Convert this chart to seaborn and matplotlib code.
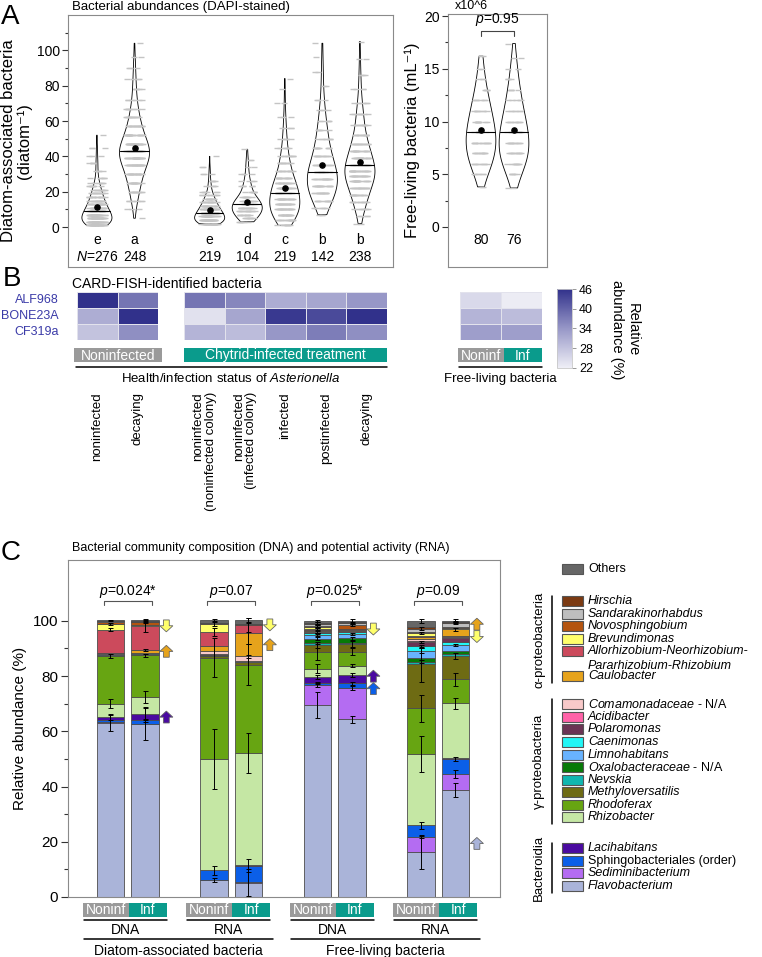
"""Bacterial abundances, CARD-FISH heatmaps and community composition (3-panel figure)."""

import matplotlib

matplotlib.use("Agg")

import matplotlib.pyplot as plt  # noqa: E402
import numpy as np  # noqa: E402
import pandas as pd  # noqa: E402
import seaborn as sns  # noqa: E402
from matplotlib.collections import PolyCollection  # noqa: E402
from matplotlib.colors import LinearSegmentedColormap  # noqa: E402
from matplotlib.patches import FancyArrow, Rectangle  # noqa: E402

# ---------------------------------------------------------------- Panel A data
# diatom-associated bacteria per diatom: binned values and counts
diatom_letters = ["e", "a", "e", "d", "c", "b", "b"]
diatom_n = ["$N$=276", "248", "219", "104", "219", "142", "238"]
diatom_values = [
    [1, 3, 5, 7, 9, 11, 13, 15, 17, 19, 21, 23, 25, 28, 32, 36, 40, 45, 52],
    [5, 10, 15, 20, 25, 30, 35, 39, 43, 47, 52, 57, 62, 67, 72, 78, 84, 90, 96, 104],
    [2, 4, 6, 8, 10, 12, 14, 16, 18, 20, 23, 26, 30, 34, 40],
    [3, 5, 7, 9, 11, 13, 15, 17, 20, 23, 26, 30, 34, 38, 44],
    [1, 4, 7, 10, 13, 16, 19, 22, 25, 28, 32, 36, 40, 45, 50, 56, 62, 70, 78, 84],
    [7, 11, 15, 19, 23, 27, 31, 35, 40, 45, 50, 55, 60, 66, 72, 80, 88, 96, 104],
    [2, 6, 10, 14, 18, 22, 26, 29, 32, 35, 39, 43, 47, 52, 58, 64, 70, 78, 86, 95, 105],
]
diatom_counts = [
    [30, 35, 33, 30, 25, 22, 18, 15, 13, 11, 9, 7, 6, 5, 4, 4, 3, 3, 1],
    [1, 3, 7, 11, 15, 19, 24, 28, 32, 28, 22, 16, 12, 8, 6, 5, 4, 3, 2, 1],
    [30, 35, 32, 27, 22, 18, 14, 11, 8, 6, 5, 4, 3, 2, 1],
    [6, 8, 10, 12, 14, 12, 10, 8, 6, 5, 4, 3, 2, 2, 1],
    [8, 14, 18, 20, 20, 20, 18, 17, 15, 13, 11, 9, 8, 6, 5, 4, 3, 2, 1, 1],
    [3, 6, 10, 13, 15, 16, 15, 13, 11, 9, 7, 6, 5, 4, 3, 2, 2, 1, 1],
    [2, 4, 7, 10, 13, 16, 18, 19, 20, 20, 18, 16, 14, 12, 10, 8, 6, 4, 3, 2, 1],
]

# free-living bacteria (x10^6 per mL)
free_n = ["80", "76"]
free_values = [
    [3.8, 5, 6, 7, 8, 9, 10, 11, 12, 13, 14, 15, 16.2],
    [3.7, 5, 6, 7, 8, 9, 10, 11, 12, 13, 14, 15, 16, 17.4],
]
free_counts = [
    [2, 5, 8, 10, 11, 10, 9, 7, 6, 4, 3, 2, 2],
    [2, 5, 8, 10, 10, 9, 8, 6, 5, 4, 3, 2, 2, 1],
]

# ---------------------------------------------------------------- Panel B data
probes = ["ALF968", "BONE23A", "CF319a"]
fish_noninfected = [[46, 38], [31, 46], [28, 35]]
fish_chytrid = [
    [38, 36, 31, 32, 34],
    [24, 32, 45, 43, 46],
    [30, 29, 34, 37, 35],
]
fish_free = [[25, 22.5], [30, 29], [33, 33]]
fish_col_labels = [
    "noninfected", "decaying",
    "noninfected\n(noninfected colony)", "noninfected\n(infected colony)",
    "infected", "postinfected", "decaying",
]

# ---------------------------------------------------------------- Panel C data
# stacking order, bottom -> top
taxa = [
    "Flavobacterium", "Sediminibacterium", "Sphingobacteriales (order)", "Lacihabitans",
    "Rhizobacter", "Rhodoferax", "Methyloversatilis", "Nevskia", "Oxalobacteraceae - N/A",
    "Limnohabitans", "Caenimonas", "Polaromonas", "Acidibacter", "Comamonadaceae - N/A",
    "Caulobacter", "Allorhizobium-Neorhizobium-\nPararhizobium-Rhizobium", "Brevundimonas",
    "Novosphingobium", "Sandarakinorhabdus", "Hirschia", "Others",
]
taxon_groups = (["Bacteroidia"] * 4 + ["γ-proteobacteria"] * 10
                + ["α-proteobacteria"] * 6 + [""])
taxon_colors = [
    "#aab4d9", "#b46cf2", "#0b5fe8", "#4a0aa0",
    "#c5e7a4", "#67a512", "#6e6b13", "#10b6b0", "#077a07",
    "#68b3ff", "#22f5f5", "#6b3454", "#ff62a8", "#f8c9c9",
    "#e6a31c", "#cc4a5c", "#ffff6b",
    "#b4540f", "#bebebe", "#7b3a12", "#666666",
]

bar_names = ["Noninf", "Inf"] * 4
dna_diatom_noninf = [63.0, 0.2, 0.7, 1.3, 4.8, 17.3, 0.2, 0.1, 0.1, 0.1, 0.1,
                     0.1, 0.1, 0.1, 0.3, 8.3, 2.0, 0.8, 0.2, 0.2, 0.1]
dna_diatom_inf = [62.7, 0.1, 1.2, 2.3, 6.2, 15.0, 0.3, 0.1, 0.1, 0.1, 0.1,
                  0.1, 0.1, 0.1, 0.9, 8.6, 0.3, 1.3, 0.1, 0.2, 0.2]
rna_diatom_noninf = [6.0, 0.1, 3.5, 0.1, 40.3, 36.6, 0.7, 0.1, 0.1, 0.1, 0.1,
                     0.1, 0.1, 1.3, 1.5, 5.3, 3.0, 0.1, 0.1, 0.1, 0.8]
rna_diatom_inf = [5.2, 0.1, 6.1, 0.1, 40.6, 32.0, 0.9, 0.1, 0.1, 0.1, 0.1,
                  0.1, 0.1, 1.5, 8.5, 2.8, 0.2, 0.1, 0.1, 0.1, 1.2]
dna_free_noninf = [69.5, 7.2, 0.9, 2.0, 3.1, 6.0, 2.6, 0.5, 1.7, 1.5, 0.4,
                   0.5, 0.2, 0.2, 0.2, 0.6, 0.5, 0.4, 0.7, 0.4, 0.9]
dna_free_inf = [64.3, 11.5, 1.5, 3.1, 3.3, 5.1, 2.8, 0.4, 1.7, 1.6, 0.5,
                0.3, 0.1, 0.2, 0.2, 0.3, 0.2, 1.4, 0.6, 0.4, 0.5]
rna_free_noninf = [16.3, 5.4, 4.2, 0.3, 25.5, 16.6, 16.0, 0.9, 1.2, 2.8, 1.6,
                   1.5, 0.4, 0.8, 0.6, 0.4, 1.2, 0.3, 1.2, 0.4, 2.4]
rna_free_inf = [38.8, 5.7, 5.5, 0.2, 19.9, 8.7, 8.5, 0.6, 1.1, 2.2, 1.2,
                1.2, 0.4, 0.6, 2.3, 0.3, 0.2, 0.3, 1.5, 0.5, 0.3]

# standard deviations drawn at the top of each segment (0 = no error bar)
err_dna_diatom_noninf = [3.0, 0, 0, 1.0, 1.5, 0.7, 0, 0, 0, 0, 0, 0, 0, 0, 0, 0.6, 0.5, 0, 0, 0, 0.3]
err_dna_diatom_inf = [6.0, 0, 0.5, 2.3, 2.2, 0.6, 0, 0, 0, 0, 0, 0, 0, 0, 0.5, 2.0, 0, 0.5, 0, 0, 0.4]
err_rna_diatom_noninf = [0.7, 0, 1.8, 0, 11.0, 7.0, 0, 0, 0, 0, 0, 0, 0, 0, 0, 1.5, 0.8, 0, 0, 0, 0.5]
err_rna_diatom_inf = [4.8, 0, 2.5, 0, 7.2, 7.5, 0, 0, 0, 0, 0, 0, 0, 0.5, 4.0, 2.5, 0, 0, 0, 0, 0.8]
err_dna_free_noninf = [4.6, 0.5, 0.3, 0.7, 1.5, 2.8, 1.0, 0, 0.5, 0.5, 0.3, 0.3, 0, 0, 0, 0.3, 0.3, 0.3, 0.3, 0.3, 0.4]
err_dna_free_inf = [1.2, 0.7, 0.5, 0.7, 0.5, 1.2, 1.0, 0, 0.5, 0.4, 0, 0, 0, 0, 0, 0, 0, 0.5, 0.4, 0, 0.8]
err_rna_free_noninf = [6.0, 0.5, 1.4, 0, 6.5, 5.0, 6.3, 0.5, 0, 0.8, 0.5, 0.5, 0, 0, 0, 0, 0.4, 0, 0.4, 0, 0.8]
err_rna_free_inf = [2.5, 1.3, 0.8, 0, 2.1, 2.3, 1.0, 0, 0, 0.5, 0, 0, 0, 0, 0.5, 0, 0, 0, 0.5, 0.3, 0.8]

p_values = ["$p$=0.024*", "$p$=0.07", "$p$=0.025*", "$p$=0.09"]
assay_labels = ["DNA", "RNA", "DNA", "RNA"]
fraction_labels = ["Diatom-associated bacteria", "Free-living bacteria"]

# arrows beside the infected bars (bar index, taxon, direction), listed top -> bottom
arrow_bar = [1, 1, 1, 3, 3, 5, 5, 5, 7, 7, 7]
arrow_taxon = ["Brevundimonas", "Caulobacter", "Lacihabitans",
               "Brevundimonas", "Caulobacter",
               "Brevundimonas", "Lacihabitans", "Sphingobacteriales (order)",
               "Caulobacter", "Brevundimonas", "Flavobacterium"]
arrow_dir = ["down", "up", "up", "down", "up", "down", "up", "up", "up", "down", "up"]

# ---------------------------------------------------------------- styling
sns.set_theme(style="ticks")
plt.rcParams["font.family"] = ["Liberation Sans", "DejaVu Sans"]
plt.rcParams["mathtext.fontset"] = "custom"
plt.rcParams["mathtext.rm"] = "Liberation Sans"
plt.rcParams["mathtext.it"] = "Liberation Sans:italic"
plt.rcParams["mathtext.bf"] = "Liberation Sans:bold"
plt.rcParams["text.color"] = "black"
plt.rcParams["axes.labelcolor"] = "black"
plt.rcParams["xtick.color"] = "#333333"
plt.rcParams["ytick.color"] = "#333333"
plt.rcParams["ytick.labelcolor"] = "black"

GREY = "#9a9a9a"
TEAL = "#0a9b8c"
PROBE_BLUE = "#3b3ba8"
W, H = 762, 957

fig = plt.figure(figsize=(W / 100, H / 100), dpi=100)


def frac(x0, y0, x1, y1):
    """Pixel box (top-left origin) -> figure fraction rect."""
    return [x0 / W, 1 - y1 / H, (x1 - x0) / W, (y1 - y0) / H]


def grey_frame(ax):
    for s in ax.spines.values():
        s.set_visible(True)
        s.set_color("#8a8a8a")
        s.set_linewidth(0.8)


def draw_violins(ax, groups, positions, width):
    """Dash strip + outline violin + median line + mean dot."""
    df = pd.DataFrame({
        "pos": np.concatenate([[p] * len(g) for p, g in zip(positions, groups)]),
        "value": np.concatenate(groups),
    })
    sns.stripplot(data=df, x="pos", y="value", native_scale=True, orient="x",
                  marker="_", color="#c4c4c4", size=5, linewidth=1.0,
                  jitter=0.22, ax=ax)
    n0 = len(ax.collections)
    sns.violinplot(data=df, x="pos", y="value", native_scale=True, orient="x",
                   inner=None, cut=0, density_norm="width", width=width,
                   fill=False, color="black", linewidth=0.6, ax=ax)
    polys = [c for c in ax.collections[n0:] if isinstance(c, PolyCollection)]
    for i, (p, vals) in enumerate(zip(positions, groups)):
        med = np.median(vals)
        half = width * 0.3
        if i < len(polys):
            verts = polys[i].get_paths()[0].vertices
            right = verts[verts[:, 0] >= p]
            order = np.argsort(right[:, 1])
            half = np.interp(med, right[order, 1], right[order, 0]) - p
        ax.plot([p - half, p + half], [med, med], color="black", lw=0.8, zorder=4)
        ax.scatter([p], [np.mean(vals)], s=14, color="black", zorder=5)
    ax.set_xlabel("")
    ax.set_ylabel("")


# ---------------------------------------------------------------- Panel A (left)
axA = fig.add_axes(frac(68, 15, 393, 267))
slots = [0, 1] + [3 + i for i in range(5)]
diatom_groups = [np.repeat(v, c) for v, c in zip(diatom_values, diatom_counts)]
draw_violins(axA, diatom_groups, slots, 0.8)
axA.set_xlim(-0.77, 7.88)
axA.set_ylim(-22.6, 120)
axA.set_xticks([])
axA.set_yticks(range(0, 101, 20))
axA.set_yticks(range(10, 111, 20), minor=True)
axA.tick_params(axis="y", which="major", length=4, width=0.8, labelsize=10, pad=2)
axA.tick_params(axis="y", which="minor", length=2, width=0.8)
axA.set_ylabel("Diatom-associated bacteria\n(diatom⁻¹)", fontsize=12,
               labelpad=3, linespacing=1.05)
grey_frame(axA)
for p, letter, n in zip(slots, diatom_letters, diatom_n):
    axA.text(p, -7.3, letter, ha="center", va="center", fontsize=10)
    axA.text(p, -16.8, n, ha="center", va="center", fontsize=10)

# ---------------------------------------------------------------- Panel A (right)
axF = fig.add_axes(frac(448, 14, 547, 267))
free_groups = [np.repeat(v, c) for v, c in zip(free_values, free_counts)]
draw_violins(axF, free_groups, [0, 1], 0.9)
axF.set_xlim(-1.0, 2.0)
axF.set_ylim(-3.8, 20.2)
axF.set_xticks([])
axF.set_yticks(range(0, 21, 5))
axF.set_yticks([2.5, 7.5, 12.5, 17.5], minor=True)
axF.tick_params(axis="y", which="major", length=4, width=0.8, labelsize=10, pad=2)
axF.tick_params(axis="y", which="minor", length=2, width=0.8)
axF.set_ylabel("Free-living bacteria (mL⁻¹)", fontsize=12, labelpad=3)
grey_frame(axF)
for p, n in zip([0, 1], free_n):
    axF.text(p, -1.25, n, ha="center", va="center", fontsize=10)
axF.plot([0, 0, 1, 1], [18.1, 18.6, 18.6, 18.1], color="#444444", lw=0.8)
axF.text(0.5, 18.85, "$p$=0.95", ha="center", va="bottom", fontsize=10)

# ---------------------------------------------------------------- Panel B
fish_cmap = LinearSegmentedColormap.from_list("fish", ["#efeff6", "#9797c7", "#31318b"])


def draw_heat(box, values):
    ax = fig.add_axes(frac(*box))
    sns.heatmap(pd.DataFrame(values, index=probes), ax=ax, cmap=fish_cmap,
                vmin=22, vmax=46, cbar=False, xticklabels=False,
                yticklabels=False, linewidths=0.5, linecolor="#e2e2ec")
    return ax


axB1 = draw_heat((77, 292, 158, 340), fish_noninfected)
axB2 = draw_heat((184, 292, 387, 340), fish_chytrid)
axB3 = draw_heat((460, 292, 542, 340), fish_free)

cax = fig.add_axes(frac(557, 289, 572, 368))
cb = fig.colorbar(axB1.collections[0], cax=cax, ticks=[22, 28, 34, 40, 46])
cb.outline.set_edgecolor("#c8c8c8")
cb.outline.set_linewidth(0.6)
cax.tick_params(labelsize=9, length=3, width=0.6, color="#888888", pad=2)

# ---------------------------------------------------------------- Panel C
axC = fig.add_axes(frac(68, 560, 500, 897))
bar_pos = [0, 1, 3, 4, 6, 7, 9, 10]
comp = np.array([dna_diatom_noninf, dna_diatom_inf, rna_diatom_noninf, rna_diatom_inf,
                 dna_free_noninf, dna_free_inf, rna_free_noninf, rna_free_inf])
errs = np.array([err_dna_diatom_noninf, err_dna_diatom_inf, err_rna_diatom_noninf,
                 err_rna_diatom_inf, err_dna_free_noninf, err_dna_free_inf,
                 err_rna_free_noninf, err_rna_free_inf])
bottom = np.zeros(len(bar_pos))
tops = np.zeros_like(comp)
for j, color in enumerate(taxon_colors):
    sns.barplot(x=bar_pos, y=comp[:, j], bottom=bottom, native_scale=True,
                color=color, saturation=1, width=0.8, errorbar=None,
                edgecolor="#4d4d4d", linewidth=0.6, ax=axC)
    bottom = bottom + comp[:, j]
    tops[:, j] = bottom
for j in range(len(taxa)):
    mask = errs[:, j] > 0
    if mask.any():
        axC.errorbar(np.array(bar_pos)[mask], tops[mask, j], yerr=errs[mask, j],
                     fmt="none", ecolor="black", elinewidth=0.7, capsize=1.8,
                     capthick=0.7, zorder=4)

axC.set_xlim(-1.23, 11.29)
axC.set_ylim(0, 122)
axC.set_xticks([])
axC.set_xlabel("")
axC.set_yticks(range(0, 101, 20))
axC.set_yticks(range(10, 100, 20), minor=True)
axC.tick_params(axis="y", which="major", length=5, width=0.8, labelsize=11, pad=2)
axC.tick_params(axis="y", which="minor", length=3, width=0.8)
axC.set_ylabel("Relative abundance (%)", fontsize=11, labelpad=4)
grey_frame(axC)

# p-value brackets and sample boxes
for k, (label, assay) in enumerate(zip(p_values, assay_labels)):
    a, b = bar_pos[2 * k], bar_pos[2 * k + 1]
    m = (a + b) / 2
    axC.plot([a - 0.2, a - 0.2, b + 0.2, b + 0.2], [105.8, 107.2, 107.2, 105.8],
             color="#555555", lw=0.8)
    axC.text(m, 110.5, label, ha="center", va="center", fontsize=10)
    axC.add_patch(Rectangle((m - 1.3, -7.25), 1.33, 5.08, fc=GREY, ec="none",
                            clip_on=False))
    axC.add_patch(Rectangle((m + 0.03, -7.25), 1.1, 5.08, fc=TEAL, ec="none",
                            clip_on=False))
    axC.text(m - 0.63, -4.7, bar_names[2 * k], ha="center", va="center",
             fontsize=10, color="white")
    axC.text(m + 0.58, -4.7, bar_names[2 * k + 1], ha="center", va="center",
             fontsize=10, color="white")
    axC.plot([m - 1.28, m + 1.13], [-8.3, -8.3], color="black", lw=1.1,
             clip_on=False)
    axC.text(m - 0.07, -11.9, assay, ha="center", va="center", fontsize=10)
for k, label in enumerate(fraction_labels):
    left = (bar_pos[4 * k] + bar_pos[4 * k + 1]) / 2 - 1.28
    right = (bar_pos[4 * k + 2] + bar_pos[4 * k + 3]) / 2 + 1.22
    axC.plot([left, right], [-15.2, -15.2], color="black", lw=1.1, clip_on=False)
    axC.text((left + right) / 2, -19.4, label, ha="center", va="center", fontsize=10)

# change arrows
for b in sorted(set(arrow_bar)):
    items = [(t, d) for bb, t, d in zip(arrow_bar, arrow_taxon, arrow_dir) if bb == b]
    ys = []
    for t, _ in items:
        j = taxa.index(t)
        ys.append(tops[b, j] - comp[b, j] / 2)
    for i in range(1, len(ys)):
        if ys[i - 1] - ys[i] < 4.5:
            mid = (ys[i - 1] + ys[i]) / 2
            ys[i - 1], ys[i] = mid + 2.25, mid - 2.25
    for (t, d), y in zip(items, ys):
        x = bar_pos[b] + 0.62
        sign = 1 if d == "up" else -1
        axC.add_patch(FancyArrow(x, y - sign * 2.15, 0, sign * 4.3, width=0.17,
                                 head_width=0.38, head_length=2.2,
                                 length_includes_head=True,
                                 fc=taxon_colors[taxa.index(t)], ec="#666666",
                                 lw=0.6, clip_on=False, zorder=5))

# ---------------------------------------------------------------- overlay (pixel coords)
ov = fig.add_axes([0, 0, 1, 1], zorder=10)
ov.set_xlim(0, W)
ov.set_ylim(H, 0)
ov.axis("off")

ov.text(1, 17, "A", fontsize=20, va="center", ha="left")
ov.text(3, 279, "B", fontsize=20, va="center", ha="left")
ov.text(1, 553, "C", fontsize=20, va="center", ha="left")
ov.text(72, 7, "Bacterial abundances (DAPI-stained)", fontsize=9.5, va="center")
ov.text(455, 6, "x10^6", fontsize=9, va="center")
ov.text(72, 284, "CARD-FISH-identified bacteria", fontsize=10, va="center")
ov.text(72, 548, "Bacterial community composition (DNA) and potential activity (RNA)",
        fontsize=9, va="center")

for i, probe in enumerate(probes):
    ov.text(59, 300 + i * 16, probe, ha="right", va="center", fontsize=9,
            color=PROBE_BLUE)

# status bars under the heatmaps
for x0, x1, label, fc in [(74, 162, "Noninfected", GREY),
                          (184, 387, "Chytrid-infected treatment", TEAL),
                          (458, 504, "Noninf", GREY), (504, 542, "Inf", TEAL)]:
    ov.add_patch(Rectangle((x0, 348), x1 - x0, 14, fc=fc, ec="none"))
    ov.text((x0 + x1) / 2, 355.5, label, ha="center", va="center", fontsize=10,
            color="white")
ov.plot([76, 387], [367, 367], color="black", lw=1.1)
ov.plot([459, 542], [367, 367], color="black", lw=1.1)
ov.text(231, 379, "Health/infection status of $Asterionella$", ha="center",
        va="center", fontsize=9.5)
ov.text(500, 379, "Free-living bacteria", ha="center", va="center", fontsize=9.5)
col_x = [77 + 40.5 * (i + 0.5) for i in range(2)] + [184 + 40.6 * (i + 0.5) for i in range(5)]
for x, label in zip(col_x, fish_col_labels):
    ov.text(x, 392, label, rotation=90, ha="center", va="top", fontsize=9.5,
            multialignment="right", linespacing=1.05)
ov.text(625, 330, "Relative\nabundance (%)", rotation=270, ha="center",
        va="center", fontsize=10.5, multialignment="center", linespacing=1.1)

# legend for panel C
row = 12.55
group_gap = {"α-proteobacteria": 19.5, "γ-proteobacteria": 15.5, "Bacteroidia": 18.5}
ly = 569 - row
prev = None
spans = {}
for name, color, grp in reversed(list(zip(taxa, taxon_colors, taxon_groups))):
    ly += row
    if prev is not None and grp != prev:
        ly += group_gap[grp]
    prev = grp
    ov.add_patch(Rectangle((562, ly - 5), 21, 10, fc=color, ec="#555555", lw=0.8))
    if name in ("Others", "Sphingobacteriales (order)"):
        ov.text(588, ly, name, va="center", fontsize=9)
    elif name.endswith(" - N/A"):
        ov.text(588, ly, "$" + name.split(" - ")[0] + "$ - N/A", va="center", fontsize=9)
    else:
        lines = name.split("\n")
        ov.text(588, ly, lines[0], va="center", fontsize=9, fontstyle="italic")
        for extra in lines[1:]:
            ly += row
            ov.text(588, ly + 2, extra, va="center", fontsize=9, fontstyle="italic")
    if grp:
        spans.setdefault(grp, [ly, ly])
        spans[grp][1] = ly
for grp, (y0, y1) in spans.items():
    ov.plot([552, 552], [y0 - 5, y1 + 7], color="black", lw=1.1)
    ov.text(539, (y0 + y1) / 2 + 1, grp, rotation=90, ha="center", va="center",
            fontsize=9.5)

fig.savefig("out.png", dpi=100)
plt.close(fig)
